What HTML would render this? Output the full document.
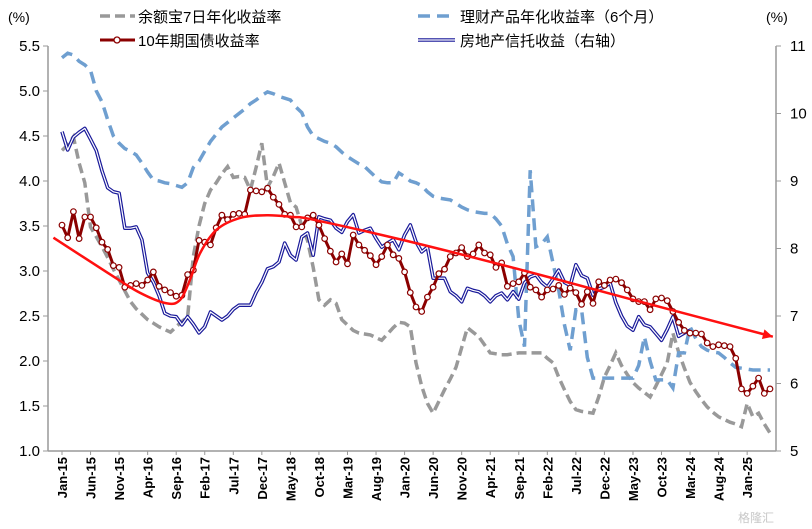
<!DOCTYPE html>
<html><head><meta charset="utf-8">
<style>
body{margin:0;background:#fff;}
svg{display:block;font-family:"Liberation Sans","Noto Sans CJK SC",sans-serif;}
</style></head>
<body>
<svg id="chart" width="812" height="529" viewBox="0 0 812 529">
  <g id="axes"></g>
  <g id="series"></g>
  <g id="legend">
    <text x="8" y="22" font-size="14">(%)</text>
    <text x="766" y="22" font-size="14">(%)</text>
    <g>
      <line x1="100" y1="16" x2="135" y2="16" stroke="#999" stroke-width="3.5" stroke-dasharray="10,5"/>
      <text x="138" y="22" font-size="15">余额宝7日年化收益率</text>
    </g>
    <g>
      <line x1="418" y1="16" x2="455" y2="16" stroke="#6f9fd0" stroke-width="3.5" stroke-dasharray="12,7"/>
      <text x="460" y="22" font-size="15">理财产品年化收益率（6个月）</text>
    </g>
    <g>
      <line x1="100" y1="40" x2="135" y2="40" stroke="#8b0000" stroke-width="3"/>
      <circle cx="117" cy="40" r="3" fill="#fff" stroke="#8b0000" stroke-width="1.3"/>
      <text x="138" y="46" font-size="15">10年期国债收益率</text>
    </g>
    <g>
      <line x1="418" y1="40" x2="455" y2="40" stroke="#1a1a9a" stroke-width="3.6"/>
      <line x1="418" y1="40" x2="455" y2="40" stroke="#fff" stroke-width="1.2"/>
      <text x="460" y="46" font-size="15">房地产信托收益（右轴）</text>
    </g>
  </g>
  <text x="738" y="522" font-size="12" fill="#c8c8c8">格隆汇</text>
</svg>
<script>
const xLabels=["Jan-15","Jun-15","Nov-15","Apr-16","Sep-16","Feb-17","Jul-17","Dec-17","May-18","Oct-18","Mar-19","Aug-19","Jan-20","Jun-20","Nov-20","Apr-21","Sep-21","Feb-22","Jul-22","Dec-22","May-23","Oct-23","Mar-24","Aug-24","Jan-25"];
const leftTicks=[1.0,1.5,2.0,2.5,3.0,3.5,4.0,4.5,5.0,5.5];
const rightTicks=[5,6,7,8,9,10,11];
const bond=[3.51,3.37,3.66,3.36,3.6,3.6,3.48,3.32,3.24,3.06,3.04,2.82,2.84,2.86,2.84,2.9,2.99,2.83,2.79,2.76,2.72,2.73,2.96,3.01,3.34,3.32,3.29,3.48,3.62,3.57,3.63,3.64,3.63,3.9,3.89,3.88,3.92,3.82,3.74,3.63,3.62,3.49,
3.49,3.59,3.62,3.51,3.36,3.22,3.1,3.19,3.08,3.4,3.29,3.23,3.17,3.07,3.16,3.29,3.18,3.14,2.99,2.76,2.6,2.55,2.71,2.82,2.97,3.02,3.16,3.2,3.26,3.16,3.19,3.29,3.2,3.18,3.04,3.09,2.83,2.86,2.88,2.98,2.82,2.79,
2.71,2.79,2.8,2.84,2.74,2.81,2.76,2.63,2.77,2.64,2.88,2.84,2.9,2.91,2.87,2.79,2.69,2.66,2.66,2.57,2.69,2.7,2.67,2.55,2.43,2.34,2.31,2.31,2.3,2.2,2.16,2.18,2.17,2.16,2.03,1.69,1.64,1.72,1.81,1.64,1.69];
const yuebao=[4.34,4.4,4.49,4.2,3.98,3.49,3.38,3.27,3.15,3.02,2.9,2.78,2.66,2.58,2.52,2.46,2.42,2.38,2.35,2.32,2.38,2.44,2.49,3.16,3.5,3.75,3.9,3.98,4.08,4.16,4.04,4.05,4.04,3.9,4.15,4.42,3.93,4.05,4.2,3.98,3.76,3.71,3.5,3.34,3.04,2.68,2.62,2.68,2.64,2.46,2.4,2.34,2.31,2.3,2.29,2.26,2.23,2.3,2.37,2.43,2.42,2.38,1.98,1.72,1.53,1.42,1.55,1.68,1.8,1.93,2.15,2.37,2.32,2.27,2.18,2.09,2.08,2.07,2.07,2.08,2.09,2.09,2.09,2.09,2.09,2.03,1.98,1.82,1.68,1.55,1.46,1.44,1.43,1.42,1.6,1.82,1.95,2.09,1.95,1.85,1.76,1.7,1.65,1.6,1.72,1.85,1.98,2.31,2.1,1.92,1.76,1.66,1.57,1.49,1.43,1.38,1.35,1.32,1.3,1.27,1.53,1.38,1.42,1.3,1.2];
const wealth=[5.37,5.42,5.4,5.33,5.29,5.23,5.0,4.88,4.68,4.5,4.42,4.36,4.33,4.29,4.2,4.1,4.01,4.0,3.98,3.97,3.95,3.93,3.98,4.15,4.22,4.33,4.44,4.52,4.6,4.65,4.7,4.75,4.8,4.86,4.9,4.95,4.99,4.97,4.94,4.92,4.9,4.82,4.76,4.6,4.5,4.47,4.44,4.42,4.38,4.32,4.27,4.23,4.19,4.16,4.1,4.04,3.99,3.98,3.98,4.09,4.05,4.0,3.98,3.95,3.88,3.83,3.81,3.8,3.79,3.75,3.71,3.68,3.66,3.65,3.64,3.64,3.58,3.5,3.3,3.16,2.46,2.16,4.12,3.27,3.3,3.38,3.09,2.79,2.4,2.12,2.57,2.57,2.04,1.81,1.81,1.81,1.81,1.81,1.81,1.81,1.81,1.95,2.27,2.0,1.79,1.79,1.79,1.7,2.09,2.09,2.38,2.25,2.16,2.12,2.1,2.09,2.04,1.98,1.93,1.92,1.91,1.9,1.9,1.9,1.9];
const trust=[9.73,9.46,9.65,9.72,9.78,9.62,9.45,9.15,8.9,8.84,8.82,8.3,8.3,8.32,8.13,7.64,7.5,7.3,7.04,7.0,6.99,6.87,6.99,6.88,6.75,6.84,7.06,7.0,6.94,7.0,7.1,7.16,7.16,7.16,7.35,7.5,7.7,7.73,7.8,8.08,7.9,7.83,8.17,8.23,7.9,8.47,8.44,8.42,8.3,8.24,8.4,8.5,8.23,8.27,8.3,8.15,8.02,8.08,8.13,7.98,8.2,8.35,8.1,7.95,8.02,7.56,7.56,7.56,7.36,7.3,7.21,7.41,7.38,7.36,7.3,7.21,7.3,7.34,7.24,7.36,7.25,7.49,7.58,7.61,7.5,7.43,7.55,7.68,7.5,7.45,7.76,7.6,7.56,7.31,7.4,7.43,7.49,7.2,7.0,6.85,6.79,6.99,6.87,6.84,6.74,6.64,6.8,6.99,6.7,6.75,6.79];
const trendIdx=[-1.5,8,13.6,18.4,20.7,22.4,24.2,27.1,31.2,35.9,40.5,44,60,80,100,124.5];
const trendVal=[3.37,2.98,2.76,2.64,2.68,2.9,3.2,3.46,3.59,3.62,3.6,3.57,3.34,3.02,2.68,2.27];

const NS="http://www.w3.org/2000/svg";
const X0=62, DX=708/124, L=48, R=776, T=46, B=451;
const x=i=>X0+i*DX;
const yL=v=>B-(v-1)/4.5*(B-T);
const yR=v=>B-(v-5)/6*(B-T);
function mk(tag,attrs,parent){const e=document.createElementNS(NS,tag);for(const k in attrs)e.setAttribute(k,attrs[k]);parent.appendChild(e);return e;}
const axes=document.getElementById('axes'), ser=document.getElementById('series');

let a=mk('line',{x1:L,y1:T,x2:L,y2:B,stroke:'#999','stroke-width':1.5},axes);


a=mk('line',{x1:R,y1:T,x2:R,y2:B,stroke:'#999','stroke-width':1.5},axes);


a=mk('line',{x1:L,y1:B,x2:R,y2:B,stroke:'#999','stroke-width':1.5},axes);


leftTicks.forEach(v=>{
  mk('line',{x1:L-5,y1:yL(v),x2:L,y2:yL(v),stroke:'#999'},axes);
  const t=mk('text',{x:40,y:yL(v)+5,'text-anchor':'end','font-size':15},axes);
  t.textContent=v.toFixed(1);
  
  
});
rightTicks.forEach(v=>{
  mk('line',{x1:R,y1:yR(v),x2:R+5,y2:yR(v),stroke:'#999'},axes);
  const t=mk('text',{x:790,y:yR(v)+5,'font-size':15},axes);
  t.textContent=v;
  
  
});
xLabels.forEach((s,k)=>{
  const px=x(k*5);
  mk('line',{x1:px,y1:B,x2:px,y2:B+4,stroke:'#999'},axes);
  const t=mk('text',{x:px+5,y:B+6,'text-anchor':'end','font-size':13,'font-weight':'bold',transform:`rotate(-90 ${px+5} ${B+6})`},axes);
  t.textContent=s;
  
  
});
function pts(arr,fy){return arr.map((v,i)=>x(i).toFixed(1)+','+fy(v).toFixed(1)).join(' ');}
let p=mk('polyline',{points:pts(yuebao,yL),fill:'none',stroke:'#999','stroke-width':3.5,'stroke-dasharray':'10,5'},ser);


p=mk('polyline',{points:pts(wealth,yL),fill:'none',stroke:'#6f9fd0','stroke-width':3.5,'stroke-dasharray':'12,7'},ser);


p=mk('polyline',{points:pts(trust,yR),fill:'none',stroke:'#1a1a9a','stroke-width':3.6,'stroke-linejoin':'round'},ser);


mk('polyline',{points:pts(trust,yR),fill:'none',stroke:'#fff','stroke-width':1.2,'stroke-linejoin':'round'},ser);
p=mk('polyline',{points:pts(bond,yL),fill:'none',stroke:'#8b0000','stroke-width':3,'stroke-linejoin':'round'},ser);


bond.forEach((v,i)=>{
  const c=mk('circle',{cx:x(i),cy:yL(v),r:2.8,fill:'#fff',stroke:'#8b0000','stroke-width':1.2},ser);
  
  
});
const tp=trendIdx.map((t,k)=>[x(t),yL(trendVal[k])]);
let d='M'+tp[0][0]+','+tp[0][1];
for(let k=0;k<tp.length-1;k++){
  const p0=tp[Math.max(k-1,0)],p1=tp[k],p2=tp[k+1],p3=tp[Math.min(k+2,tp.length-1)];
  d+=` C${p1[0]+(p2[0]-p0[0])/6},${p1[1]+(p2[1]-p0[1])/6} ${p2[0]-(p3[0]-p1[0])/6},${p2[1]-(p3[1]-p1[1])/6} ${p2[0]},${p2[1]}`;
}
p=mk('path',{d:d,fill:'none',stroke:'#ff1010','stroke-width':2.5},ser);


const e=tp[tp.length-1], pr=tp[tp.length-2];
const ang=Math.atan2(e[1]-pr[1],e[0]-pr[0]);
const ah=[[e[0],e[1]],[e[0]-10*Math.cos(ang)+5*Math.sin(ang),e[1]-10*Math.sin(ang)-5*Math.cos(ang)],[e[0]-10*Math.cos(ang)-5*Math.sin(ang),e[1]-10*Math.sin(ang)+5*Math.cos(ang)]];
p=mk('polygon',{points:ah.map(q=>q.join(',')).join(' '),fill:'#ff1010'},ser);


</script>
</body></html>
